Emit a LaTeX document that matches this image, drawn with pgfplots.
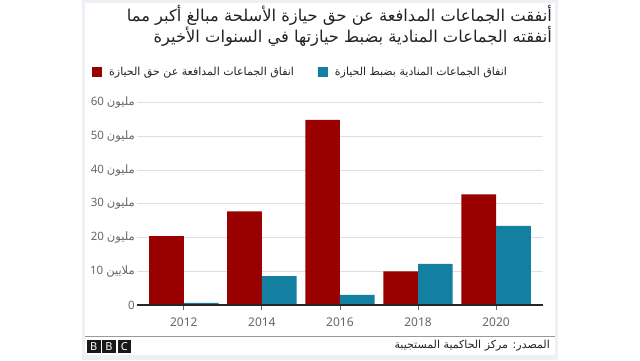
\documentclass[border=0pt]{standalone}
\usepackage{pgfplots}
\pgfplotsset{compat=1.18}
\usepackage{fontspec}
\setmainfont{Noto Sans}
\newfontfamily\arabicfont[Script=Arabic]{DejaVu Sans}
\TeXXeTstate=1
\newcommand\ar[1]{\hbox{\arabicfont\beginR #1\endR}}
\definecolor{bbcred}{HTML}{990000}
\definecolor{bbcblue}{HTML}{1380A1}
\definecolor{framegray}{HTML}{EDF0F5}
\definecolor{gridgray}{HTML}{DEDEDE}
\definecolor{labelgray}{HTML}{666666}
\definecolor{titlegray}{HTML}{222222}
\begin{document}
\begin{tikzpicture}[x=1pt,y=1pt]
\fill[white] (0,0) rectangle (640,360);
\fill[framegray] (82,0) rectangle (558,360);
\fill[white] (85,5) rectangle (555,357);
\node[anchor=north east, align=right, inner sep=0pt, text=titlegray] at (552,355)
  {\fontsize{16.3}{21}\selectfont\ar{أنفقت الجماعات المدافعة عن حق حيازة الأسلحة مبالغ أكبر مما}\\
   \fontsize{16.3}{21}\selectfont\ar{أنفقته الجماعات المنادية بضبط حيازتها في السنوات الأخيرة}};
\begin{axis}[
  at={(183.8pt,55pt)}, anchor=origin,
  scale only axis, width=406pt, height=202.3pt,
  xmin=-0.6, xmax=4.6, ymin=0, ymax=60,
  ybar=0pt, bar width=34.7pt,
  xtick={0,1,2,3,4}, xticklabels={2012,2014,2016,2018,2020},
  ytick={0,10,20,30,40,50,60},
  yticklabels={0,{10 \ar{ملايين}},{20 \ar{مليون}},{30 \ar{مليون}},{40 \ar{مليون}},{50 \ar{مليون}},{60 \ar{مليون}}},
  ymajorgrids, grid style={gridgray, line width=0.8pt},
  axis x line*=bottom, axis y line*=left,
  y axis line style={draw=none}, ytick style={draw=none},
  xtick style={draw=labelgray, line width=0.8pt},
  tick align=outside, major tick length=5pt,
  x axis line style={draw=black!85, line width=1.2pt},
  ticklabel style={text=labelgray},
  xticklabel style={font=\fontsize{12}{14}\selectfont, yshift=-4pt},
  yticklabel style={font=\fontsize{11.5}{14}\selectfont, inner xsep=0pt, xshift=3pt},
  legend style={at={(-0.1108,1.1518)}, anchor=west, draw=none, fill=none, inner sep=0pt,
     font=\fontsize{11}{13}\selectfont, text=titlegray,
     /tikz/every odd column/.append style={column sep=5pt},
     /tikz/every even column/.append style={column sep=22pt}},
  legend columns=2, legend cell align=left,
  legend image code/.code={\fill[#1] (0pt,-5pt) rectangle (10pt,5pt);},
]
\addplot[fill=bbcred, draw=none] coordinates {(0,20.4) (1,27.8) (2,54.9) (3,10.0) (4,32.8)};
\addplot[fill=bbcblue, draw=none] coordinates {(0,0.6) (1,8.6) (2,3.0) (3,12.2) (4,23.5)};
\legend{\ar{انفاق الجماعات المدافعة عن حق الحيازة},\ar{انفاق الجماعات المنادية بضبط الحيازة}}
\draw[black!85, line width=1.2pt] (rel axis cs:0,0) -- (rel axis cs:1,0);
\end{axis}
\draw[gray!80, line width=0.8pt] (85,24) -- (555,24);
\foreach \i/\l in {0/B,1/B,2/C} {
  \fill[black!90] (87+\i*15.3,7) rectangle ++(13.5,13);
  \node[text=white, font=\bfseries\fontsize{11}{11}\selectfont, inner sep=0pt] at (87+\i*15.3+6.75,13.5) {\l};
}
\node[anchor=east, inner sep=0pt, text=titlegray] at (550,14)
  {\fontsize{11}{13}\selectfont\ar{المصدر: مركز الحاكمية المستجيبة}};
\end{tikzpicture}
\end{document}
